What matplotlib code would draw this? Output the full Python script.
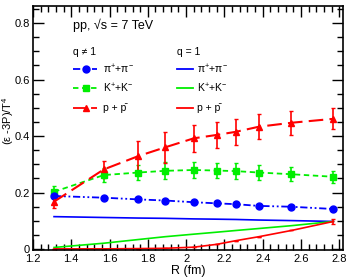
import matplotlib
matplotlib.use("Agg")
import matplotlib.pyplot as plt
from matplotlib.ticker import MultipleLocator
from matplotlib.lines import Line2D

plt.rcParams['font.family'] = ['Liberation Sans', 'DejaVu Sans']
plt.rcParams['mathtext.fontset'] = 'custom'
plt.rcParams['mathtext.rm'] = 'Liberation Sans'
plt.rcParams['mathtext.it'] = 'Liberation Sans'

R = [1.31, 1.57, 1.75, 1.89, 2.04, 2.16, 2.26, 2.38, 2.55, 2.77]

pion_q = [0.188, 0.182, 0.176, 0.172, 0.166, 0.162, 0.159, 0.153, 0.150, 0.142]
pion_err = [0.004, 0.004, 0.004, 0.004, 0.004, 0.004, 0.004, 0.004, 0.004, 0.004]
kaon_q = [0.203, 0.262, 0.271, 0.277, 0.280, 0.278, 0.276, 0.271, 0.265, 0.256]
kaon_err = [0.022, 0.025, 0.028, 0.030, 0.030, 0.028, 0.027, 0.026, 0.025, 0.021]
proton_q = [0.168, 0.282, 0.329, 0.360, 0.392, 0.404, 0.415, 0.433, 0.447, 0.461]
proton_err = [0.022, 0.030, 0.053, 0.055, 0.047, 0.045, 0.045, 0.045, 0.043, 0.037]

pion_1 = [0.115, 0.112, 0.110, 0.109, 0.107, 0.106, 0.105, 0.103, 0.101, 0.098]
kaon_1 = [0.006, 0.021, 0.034, 0.044, 0.053, 0.060, 0.066, 0.073, 0.083, 0.098]
proton_1 = [0.001, 0.001, 0.002, 0.003, 0.007, 0.017, 0.030, 0.044, 0.066, 0.098]
proton_1_err = [0.0, 0.0, 0.0, 0.0, 0.0, 0.0, 0.0, 0.0, 0.0, 0.008]

fig = plt.figure(figsize=(3.51, 2.79), dpi=100)
ax = fig.add_axes([33/351, 1 - 250/279, 310/351, 244/279])

blue = '#0000ff'
green = '#00ee00'
red = '#ff0000'

# q = 1 (solid)
ax.plot(R, pion_1, color=blue, lw=1.2)
ax.plot(R, kaon_1, color=green, lw=1.2)
ax.errorbar(R, proton_1, yerr=proton_1_err, color=red, lw=1.2, capsize=1.5, elinewidth=1.2)

# q != 1
ax.errorbar(R, kaon_q, yerr=kaon_err, color=green, ls=(0, (3, 2)), lw=1.3,
            marker='s', ms=5, capsize=1.5, elinewidth=1.2)
ax.errorbar(R, pion_q, yerr=pion_err, color=blue, ls=(0, (4, 1.5, 1, 1.5, 1, 1.5)), lw=1.3,
            marker='o', ms=5, capsize=1.5, elinewidth=1.2)
ax.errorbar(R, proton_q, yerr=proton_err, color=red, ls=(0, (7, 3)), lw=1.5,
            marker='^', ms=5, capsize=1.5, elinewidth=1.2)

ax.set_xlim(1.2, 2.82)
ax.set_ylim(-0.003, 0.86)
ax.xaxis.set_minor_locator(MultipleLocator(0.04))
ax.yaxis.set_minor_locator(MultipleLocator(0.05))
ax.tick_params(which='both', direction='in', top=True, right=True, labelsize=8, width=1)
ax.tick_params(axis='x', pad=3)
ax.tick_params(axis='y', pad=2)
ax.tick_params(which='major', length=8)
ax.tick_params(which='minor', length=4)
ax.set_xticks([1.2, 1.4, 1.6, 1.8, 2.0, 2.2, 2.4, 2.6, 2.8])
ax.set_xticklabels(['1.2', '1.4', '1.6', '1.8', '2', '2.2', '2.4', '2.6', '2.8'])
ax.set_yticks([0, 0.2, 0.4, 0.6, 0.8])
ax.set_yticklabels(['0', '0.2', '0.4', '0.6', '0.8'])
for s in ax.spines.values():
    s.set_linewidth(1.2)

fig.text(188/351, 1 - 271/279, 'R (fm)', fontsize=9, ha='center', va='center')
fig.text(8.5/351, 1 - 121/279, '(ε -3P)/T$^{4}$', fontsize=8, ha='center', va='center', rotation=90)

fig.text(73/351, 1 - 25/279, 'pp, √s = 7 TeV', fontsize=9, va='center', ha='left')
fig.text(73/351, 1 - 52/279, 'q ≠ 1', fontsize=7.5, va='center', ha='left')
fig.text(177/351, 1 - 52/279, 'q = 1', fontsize=7.5, va='center', ha='left')

labels = ['π$^{+}$+π$^{-}$', 'K$^{+}$+K$^{-}$', 'p + p̄']
ys = [69, 88, 108]
styles = [(blue, (0, (4, 1.5, 1, 1.5, 1, 1.5)), 'o'), (green, (0, (3, 2)), 's'), (red, (0, (7, 3)), '^')]
for lab, yy, (c, ls, m) in zip(labels, ys, styles):
    yf = 1 - yy / 279
    fig.add_artist(Line2D([73/351, 97/351], [yf, yf], color=c, ls=ls, lw=1.3))
    fig.add_artist(Line2D([86/351], [yf], color=c, marker=m, ms=5))
    fig.text(103/351, yf, lab, fontsize=7.5, va='center', ha='left')
    fig.add_artist(Line2D([177/351, 193/351], [yf, yf], color=c, lw=1.3))
    fig.text(197/351, yf, lab, fontsize=7.5, va='center', ha='left')

fig.savefig('out.png', dpi=100)
